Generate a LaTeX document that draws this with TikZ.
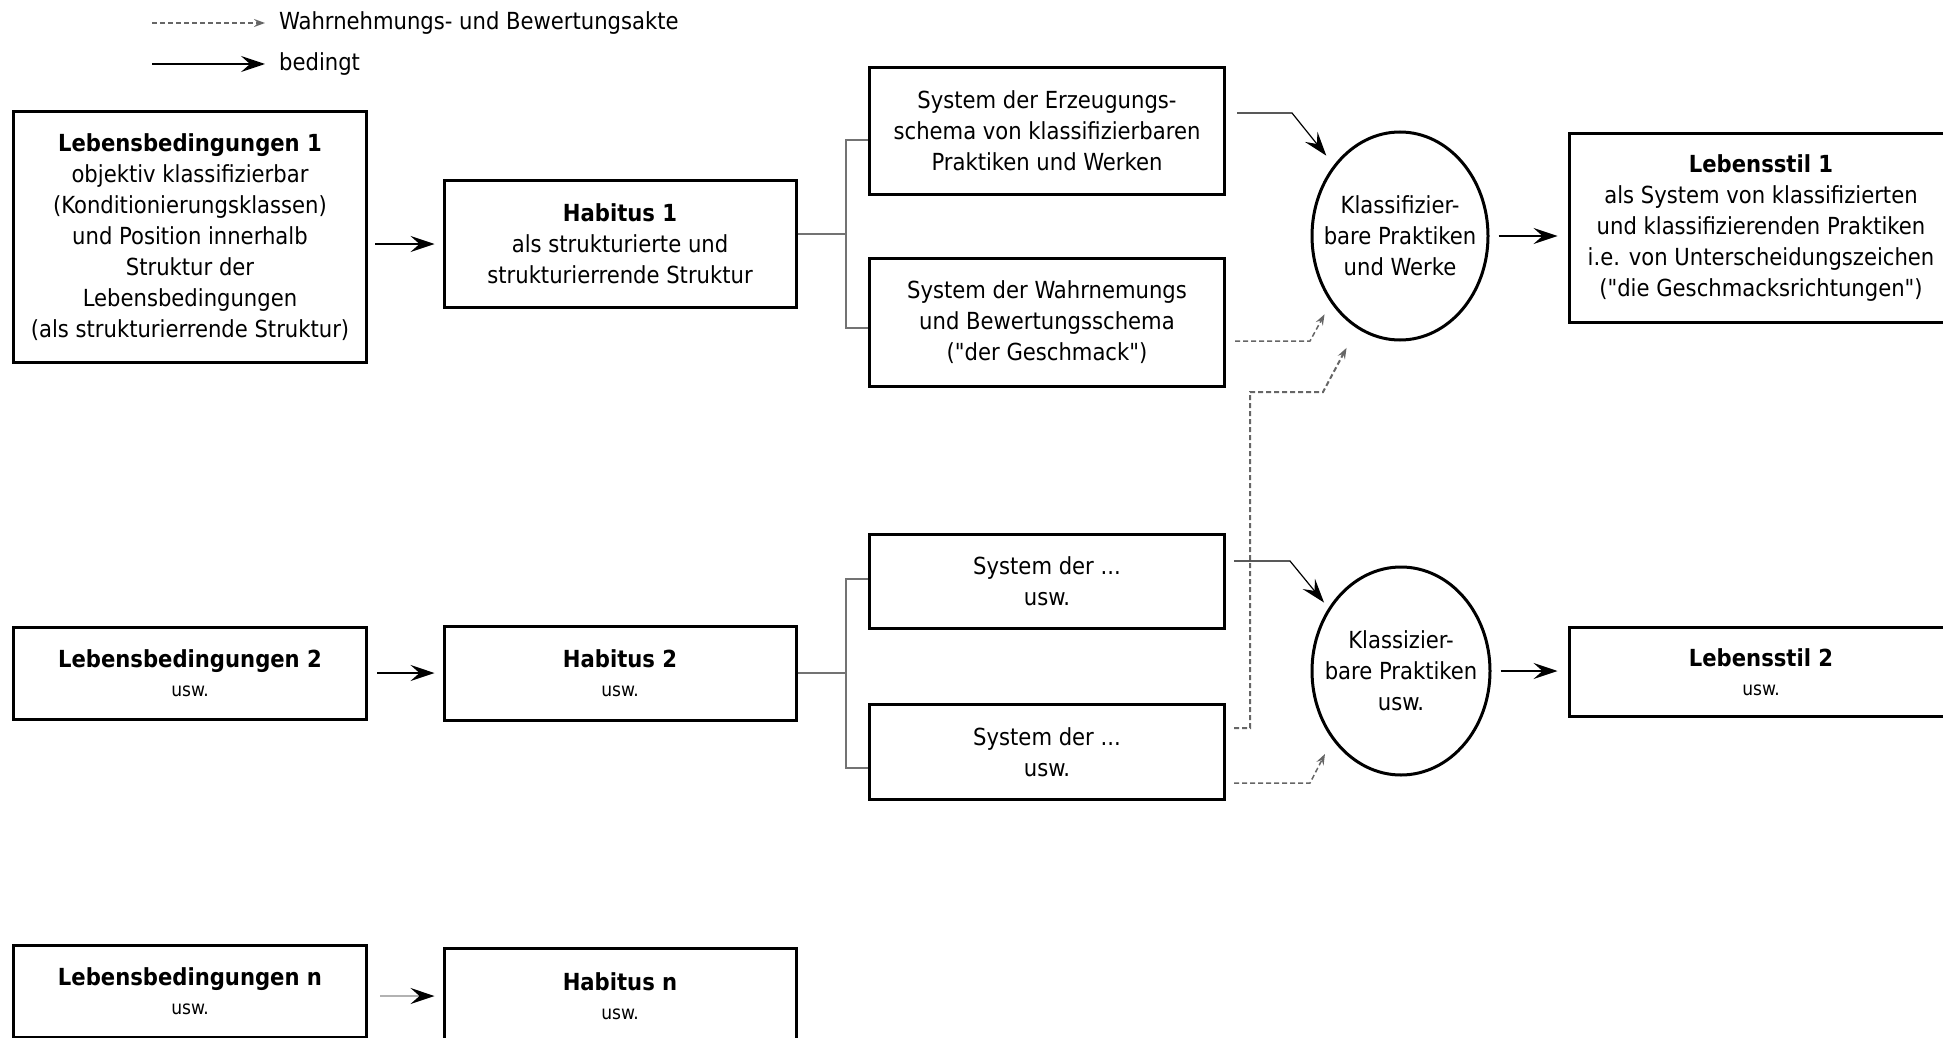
\documentclass[tikz,border=0pt]{standalone}
\usepackage{fontspec}
\setmainfont{DejaVu Sans Condensed}[Ligatures=TeXOff]
\usepackage{tikz}
\usetikzlibrary
  {
    arrows.meta,       % Stealth arrow heads
    calc,              % offsets from anchors
    shapes.geometric,  % ellipse nodes
  }

\newcommand{\uswfont}{\fontsize{19}{31}\selectfont}

\begin{document}
\begin{tikzpicture}
    [
      x=1pt, y=-1pt,
      every node/.style=
        {
          font=\fontsize{23.5}{31}\selectfont,
        },
      box/.style=
        {
          rectangle,
          draw=black,
          line width=3pt,
          fill=white,
          align=center,
          inner sep=0pt,
          minimum width=353pt,
        },
      praxis/.style=
        {
          ellipse,
          draw=black,
          line width=3pt,
          align=center,
          inner sep=0pt,
          inner xsep=-20pt,
          minimum width=176pt,
          minimum height=208pt,
        },
      bedingt/.style=
        {
          -{Stealth[length=24pt,width=16pt,inset=9pt]},
          line width=1.5pt,
        },
      akt/.style=
        {
          -{Stealth[length=11pt,width=8pt,inset=4pt]},
          draw=black!60,
          line width=2pt,
          dash pattern=on 5pt off 3pt,
        },
      zweig/.style=
        {
          draw=black!55,
          line width=2.5pt,
        },
    ]
    \useasboundingbox (0,0) rectangle (1943,1038);

    % legend
    \coordinate (akt start)     at (152,23);
    \coordinate (bedingt start) at (152,64);
    \node[anchor=west, inner sep=0pt] (akt label)     at (279,23) {Wahrnehmungs- und Bewertungsakte};
    \node[anchor=west, inner sep=0pt] (bedingt label) at (279,64) {bedingt};
    \draw[akt, line width=1.5pt] (akt start) -- ($(akt label.west)+(-14,0)$);
    \draw[bedingt] (bedingt start) -- ($(bedingt label.west)+(-14,0)$);

    % row 1
    \node[box, minimum height=251pt] (lebensbedingungen 1) at (190,237)
      {\textbf{Lebensbedingungen 1}\\objektiv klassifizierbar\\(Konditionierungsklassen)\\und Position innerhalb\\Struktur der\\Lebensbedingungen\\(als strukturierrende Struktur)};
    \node[box, minimum height=127pt, minimum width=352pt] (habitus 1) at (620,244)
      {\textbf{Habitus 1}\\als strukturierte und\\strukturierrende Struktur};
    \node[box, minimum height=126pt, minimum width=355pt] (system 1a) at (1047,131)
      {System der Erzeugungs-\\schema von klassifizierbaren\\Praktiken und Werken};
    \node[box, minimum height=128pt, minimum width=355pt] (system 1b) at (1047,322)
      {System der Wahrnemungs\\und Bewertungsschema\\("der Geschmack")};
    \node[praxis] (praxis 1) at (1400,236)
      {Klassifizier-\\bare Praktiken\\und Werke};
    \node[box, minimum height=188pt, minimum width=384pt] (lebensstil 1) at (1761,228)
      {\textbf{Lebensstil 1}\\als System von klassifizierten\\und klassifizierenden Praktiken\\i.e. von Unterscheidungszeichen\\("die Geschmacksrichtungen")};

    % row 2
    \node[box, minimum height=92pt] (lebensbedingungen 2) at (190,673)
      {\textbf{Lebensbedingungen 2}\\[-2pt]\uswfont usw.};
    \node[box, minimum height=94pt, minimum width=352pt] (habitus 2) at (620,673)
      {\textbf{Habitus 2}\\[-2pt]\uswfont usw.};
    \node[box, minimum height=94pt, minimum width=355pt] (system 2a) at (1047,581)
      {System der ...\\usw.};
    \node[box, minimum height=95pt, minimum width=355pt] (system 2b) at (1047,752)
      {System der ...\\usw.};
    \node[praxis, minimum width=178pt] (praxis 2) at (1401,671)
      {Klassizier-\\bare Praktiken\\usw.};
    \node[box, minimum height=89pt, minimum width=384pt] (lebensstil 2) at (1761,672)
      {\textbf{Lebensstil 2}\\[-2pt]\uswfont usw.};

    % row n
    \node[box, minimum height=92pt] (lebensbedingungen n) at (190,991)
      {\textbf{Lebensbedingungen n}\\[-2pt]\uswfont usw.};
    \node[box, minimum height=96pt, minimum width=352pt] (habitus n) at (620,996)
      {\textbf{Habitus n}\\[-2pt]\uswfont usw.};

    % conditions -> habitus
    \draw[bedingt, shorten <=7pt, shorten >=8pt]
      (lebensbedingungen 1.east |- habitus 1.west) -- (habitus 1.west);
    \draw[bedingt, shorten <=9pt, shorten >=8pt]
      (lebensbedingungen 2.east |- habitus 2.west) -- (habitus 2.west);
    \draw[bedingt, draw=black!30, -{Stealth[length=24pt,width=16pt,inset=9pt,black]}, shorten <=12pt, shorten >=8pt]
      (lebensbedingungen n.east |- habitus n.west) -- (habitus n.west);

    % habitus -> systems
    \coordinate (gabel 1) at (846,234);
    \coordinate (gabel 2) at (846,673);
    \draw[zweig] (habitus 1.east |- gabel 1) -- (gabel 1);
    \draw[zweig] ($(system 1a.west)+(0,9)$) -| (gabel 1) |- ($(system 1b.west)+(0,6)$);
    \draw[zweig] (habitus 2.east |- gabel 2) -- (gabel 2);
    \draw[zweig] ($(system 2a.west)+(0,-2)$) -| (gabel 2) |- ($(system 2b.west)+(0,16)$);

    % systems -> practices
    \draw[akt, shorten >=22pt]
      ($(system 2b.east)+(8,-24)$) -| (1250,392) -- (1323,392) -- (praxis 1.245);
    \draw[bedingt, line width=1.2pt, shorten >=12pt]
      ($(system 1a.east)+(11,-18)$) -- ++(55,0) -- (praxis 1.133);
    \draw[akt, line width=1.5pt, shorten >=13pt]
      ($(system 1b.east)+(9,19)$) -- ++(75,0) -- (praxis 1.224);
    \draw[bedingt, line width=1.2pt, shorten >=7pt]
      ($(system 2a.east)+(8,-20)$) -- ++(56,0) -- (praxis 2.139);
    \draw[akt, line width=1.5pt, shorten >=16pt]
      ($(system 2b.east)+(8,31)$) -- ++(76,0) -- (praxis 2.225);

    % practices -> life style
    \draw[bedingt, shorten <=9pt, shorten >=10pt]
      (praxis 1.east) -- (lebensstil 1.west |- praxis 1.east);
    \draw[bedingt, shorten <=9pt, shorten >=10pt]
      (praxis 2.east) -- (lebensstil 2.west |- praxis 2.east);
  \end{tikzpicture}
\end{document}
